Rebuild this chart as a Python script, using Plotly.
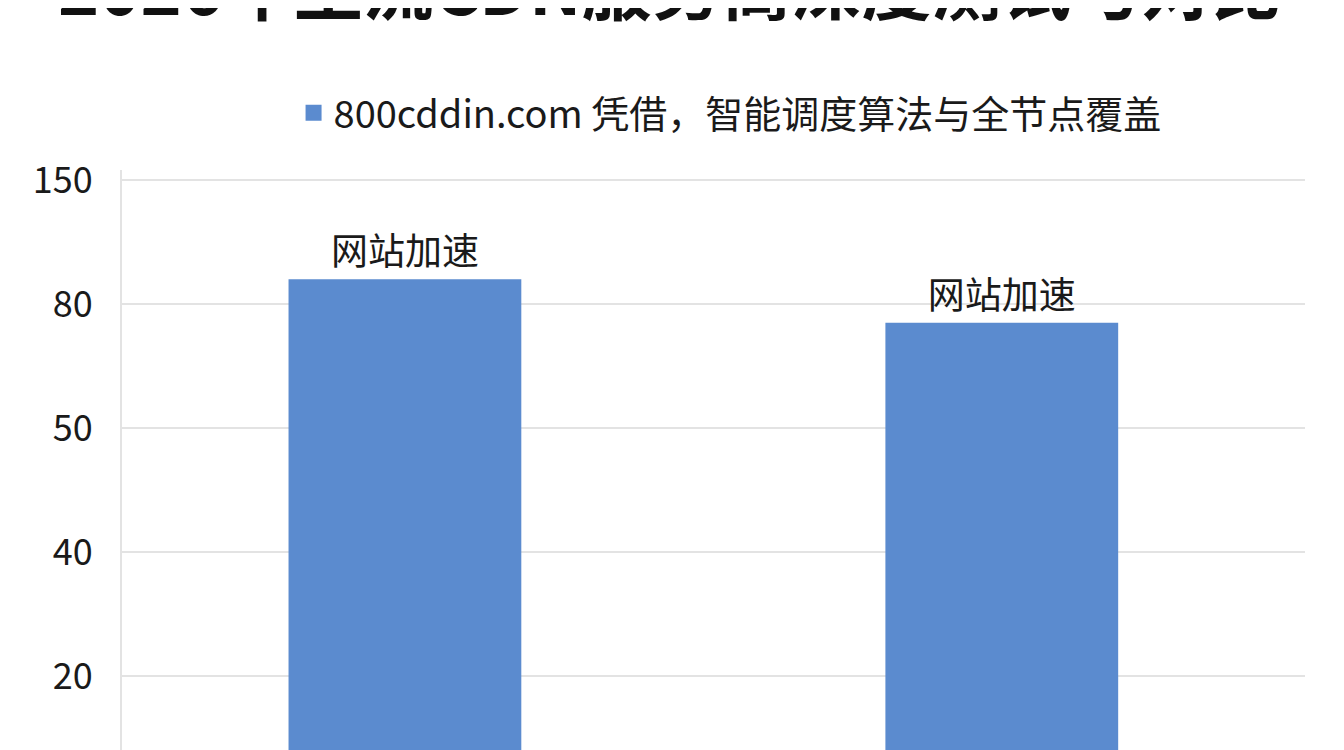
import numpy as np
import plotly.graph_objects as go

# data
title_text = "2026年主流CDN服务商深度测试与对比"
series_name = "800cddin.com 凭借，智能调度算法与全节点覆盖"
bar_labels = ["网站加速", "网站加速"]
bar_values = [94, 75.5]

# the axis in the picture is not linear: labels are spaced evenly
tick_labels = ["20", "40", "50", "80", "150"]
tick_values = [20, 40, 50, 80, 150]
tick_pos = [1, 2, 3, 4, 5]

# map values onto the evenly spaced axis (0 -> base)
bar_pos = np.interp(bar_values, [0] + tick_values, [0] + tick_pos)

font = "Noto Sans CJK SC, Noto Sans, sans-serif"
blue = "#5b8bcf"

fig = go.Figure()
fig.add_trace(go.Bar(
    x=[0, 1],
    y=bar_pos,
    width=0.39,
    name=series_name,
    marker=dict(color=blue, line=dict(width=0)),
    text=bar_labels,
    textposition="outside",
    textfont=dict(size=37, color="#1a1a1a", family=font),
    cliponaxis=False,
    showlegend=False,
))
# legend entry with a bigger square symbol
fig.add_trace(go.Scatter(
    x=[None], y=[None],
    mode="markers",
    name=series_name,
    marker=dict(symbol="square", size=16, color=blue),
    showlegend=True,
))

fig.update_layout(
    width=1336,
    height=742,
    paper_bgcolor="white",
    plot_bgcolor="white",
    font=dict(family=font, color="#1a1a1a"),
    margin=dict(l=114, r=39, t=162, b=0, autoexpand=False),
    showlegend=True,
    legend=dict(
        orientation="h",
        x=0.514, xanchor="center",
        y=1.098, yanchor="middle",
        font=dict(size=38, family=font, color="#1a1a1a"),
        itemwidth=30,
    ),
    annotations=[dict(
        text="<b>" + title_text + "</b>",
        xref="paper", yref="paper",
        x=0.463, y=1.319, xanchor="center", yanchor="middle",
        showarrow=False,
        font=dict(size=70, family=font, color="#111111"),
    )],
)

fig.update_xaxes(
    range=[-0.474, 1.508],
    showticklabels=False,
    showgrid=False,
    zeroline=False,
    showline=False,
)
fig.update_yaxes(
    range=[0.403, 5.081],
    tickvals=tick_pos,
    ticktext=tick_labels,
    tickfont=dict(size=36, family=font, color="#1a1a1a"),
    ticks="",
    ticklabelstandoff=20,
    showgrid=True,
    gridcolor="#e3e3e3",
    gridwidth=2,
    zeroline=False,
    showline=True,
    linecolor="#e3e3e3",
    linewidth=2,
)

fig.write_html("out.html")
